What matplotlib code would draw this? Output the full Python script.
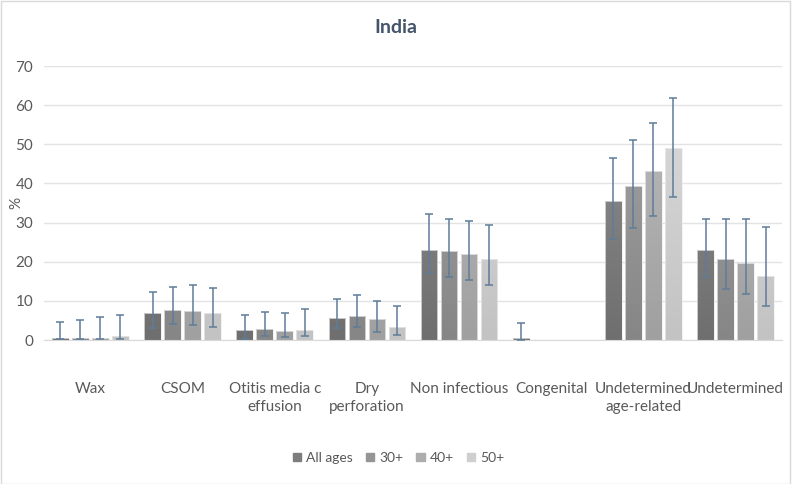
import numpy as np
import matplotlib.pyplot as plt
from matplotlib.colors import LinearSegmentedColormap
from matplotlib.patches import Rectangle

plt.rcParams['font.family'] = ['Lato', 'DejaVu Sans']

categories = ["Wax", "CSOM", "Otitis media c\neffusion", "Dry\nperforation",
              "Non infectious", "Congenital", "Undetermined\nage-related", "Undetermined"]
series = ["All ages", "30+", "40+", "50+"]

# estimates (%)
all_ages = [0.6, 6.9, 2.5, 5.6, 23.1, 0.5, 35.6, 23.1]
age30 = [0.6, 7.7, 2.8, 6.2, 22.7, 0.0, 39.3, 20.7]
age40 = [0.6, 7.5, 2.3, 5.4, 21.9, 0.0, 43.2, 19.6]
age50 = [0.9, 6.9, 2.6, 3.3, 20.7, 0.0, 49.1, 16.3]

# confidence interval bounds
all_lo = [0.2, 3.0, 0.3, 3.0, 17.0, 0.0, 25.9, 16.2]
all_hi = [4.7, 12.3, 6.5, 10.4, 32.2, 4.4, 46.6, 31.0]
a30_lo = [0.2, 4.0, 1.1, 3.3, 16.2, None, 28.5, 13.1]
a30_hi = [5.1, 13.5, 7.1, 11.4, 30.8, None, 51.2, 30.9]
a40_lo = [0.2, 3.8, 0.7, 2.0, 15.4, None, 31.7, 11.8]
a40_hi = [5.8, 14.1, 6.9, 9.9, 30.3, None, 55.5, 30.8]
a50_lo = [0.3, 3.4, 0.9, 1.3, 14.0, None, 36.5, 8.6]
a50_hi = [6.5, 13.4, 7.8, 8.8, 29.5, None, 61.8, 28.9]

values = [all_ages, age30, age40, age50]
lows = [all_lo, a30_lo, a40_lo, a50_lo]
highs = [all_hi, a30_hi, a40_hi, a50_hi]

# gradient colours (bottom, top) per series
grads = [("#6f6f6f", "#8e8e8e"), ("#868686", "#a3a3a3"),
         ("#a0a0a0", "#bababa"), ("#c3c3c3", "#dadada")]
legend_cols = ["#7d7d7d", "#959595", "#adadad", "#cfcfcf"]

fig = plt.figure(figsize=(7.92, 4.84), dpi=100)
fig.patches.append(Rectangle((0.001, 0.001), 0.997, 0.997, transform=fig.transFigure,
                             fill=False, edgecolor="#d9d9d9", linewidth=1))
ax = fig.add_axes([0.056, 0.2975, 0.931, 0.566])

x = np.arange(len(categories))
step = 0.217
width = 0.18
for i, name in enumerate(series):
    pos = x + (i - 1.5) * step
    bars = ax.bar(pos, values[i], width, facecolor="none", edgecolor="#eeeeee",
                  linewidth=0.5, label=name, zorder=2.6)
    cmap = LinearSegmentedColormap.from_list("g%d" % i, list(grads[i]))
    for b in bars:
        h = b.get_height()
        if h <= 0:
            continue
        bx = b.get_x()
        im = ax.imshow(np.linspace(0, 1, 64).reshape(-1, 1), cmap=cmap, origin="lower",
                       aspect="auto", interpolation="bilinear",
                       extent=(bx, bx + b.get_width(), 0, 62), zorder=2.5)
        im.set_clip_path(b)
    for j in range(len(categories)):
        lo, hi = lows[i][j], highs[i][j]
        if lo is None:
            continue
        v = values[i][j]
        ax.errorbar(pos[j], v, yerr=[[v - lo], [hi - v]], fmt="none",
                    ecolor="#5f7c99", elinewidth=1.1, capsize=3, capthick=1.1, zorder=3)

ax.set_xlim(-0.5, len(categories) - 0.5)
ax.set_ylim(0, 70)
ax.set_yticks(range(0, 71, 10))
ax.set_xticks(x)
ax.set_xticklabels(categories, fontsize=11, color="#595959", linespacing=1.35)
ax.tick_params(axis="x", length=0, pad=30)
ax.tick_params(axis="y", length=0, pad=8, labelsize=11, labelcolor="#595959")
ax.grid(axis="y", color="#e3e3e3", linewidth=1, zorder=0)
for s in ["top", "right", "left"]:
    ax.spines[s].set_visible(False)
ax.spines["bottom"].set_color("#d9d9d9")
ax.set_ylabel("%", fontsize=11, color="#595959")
ax.yaxis.set_label_coords(-0.028, 0.5)
fig.suptitle("India", x=0.5, y=0.96, fontsize=14, fontweight="bold", color="#44546a")

handles = [Rectangle((0, 0), 1, 1, color=c) for c in legend_cols]
fig.legend(handles, series, loc="center", bbox_to_anchor=(0.503, 0.054), ncol=4,
           frameon=False, fontsize=10, handlelength=0.6, handleheight=0.6,
           handletextpad=0.35, columnspacing=0.95, labelcolor="#595959")

fig.savefig("out.png", dpi=100)
